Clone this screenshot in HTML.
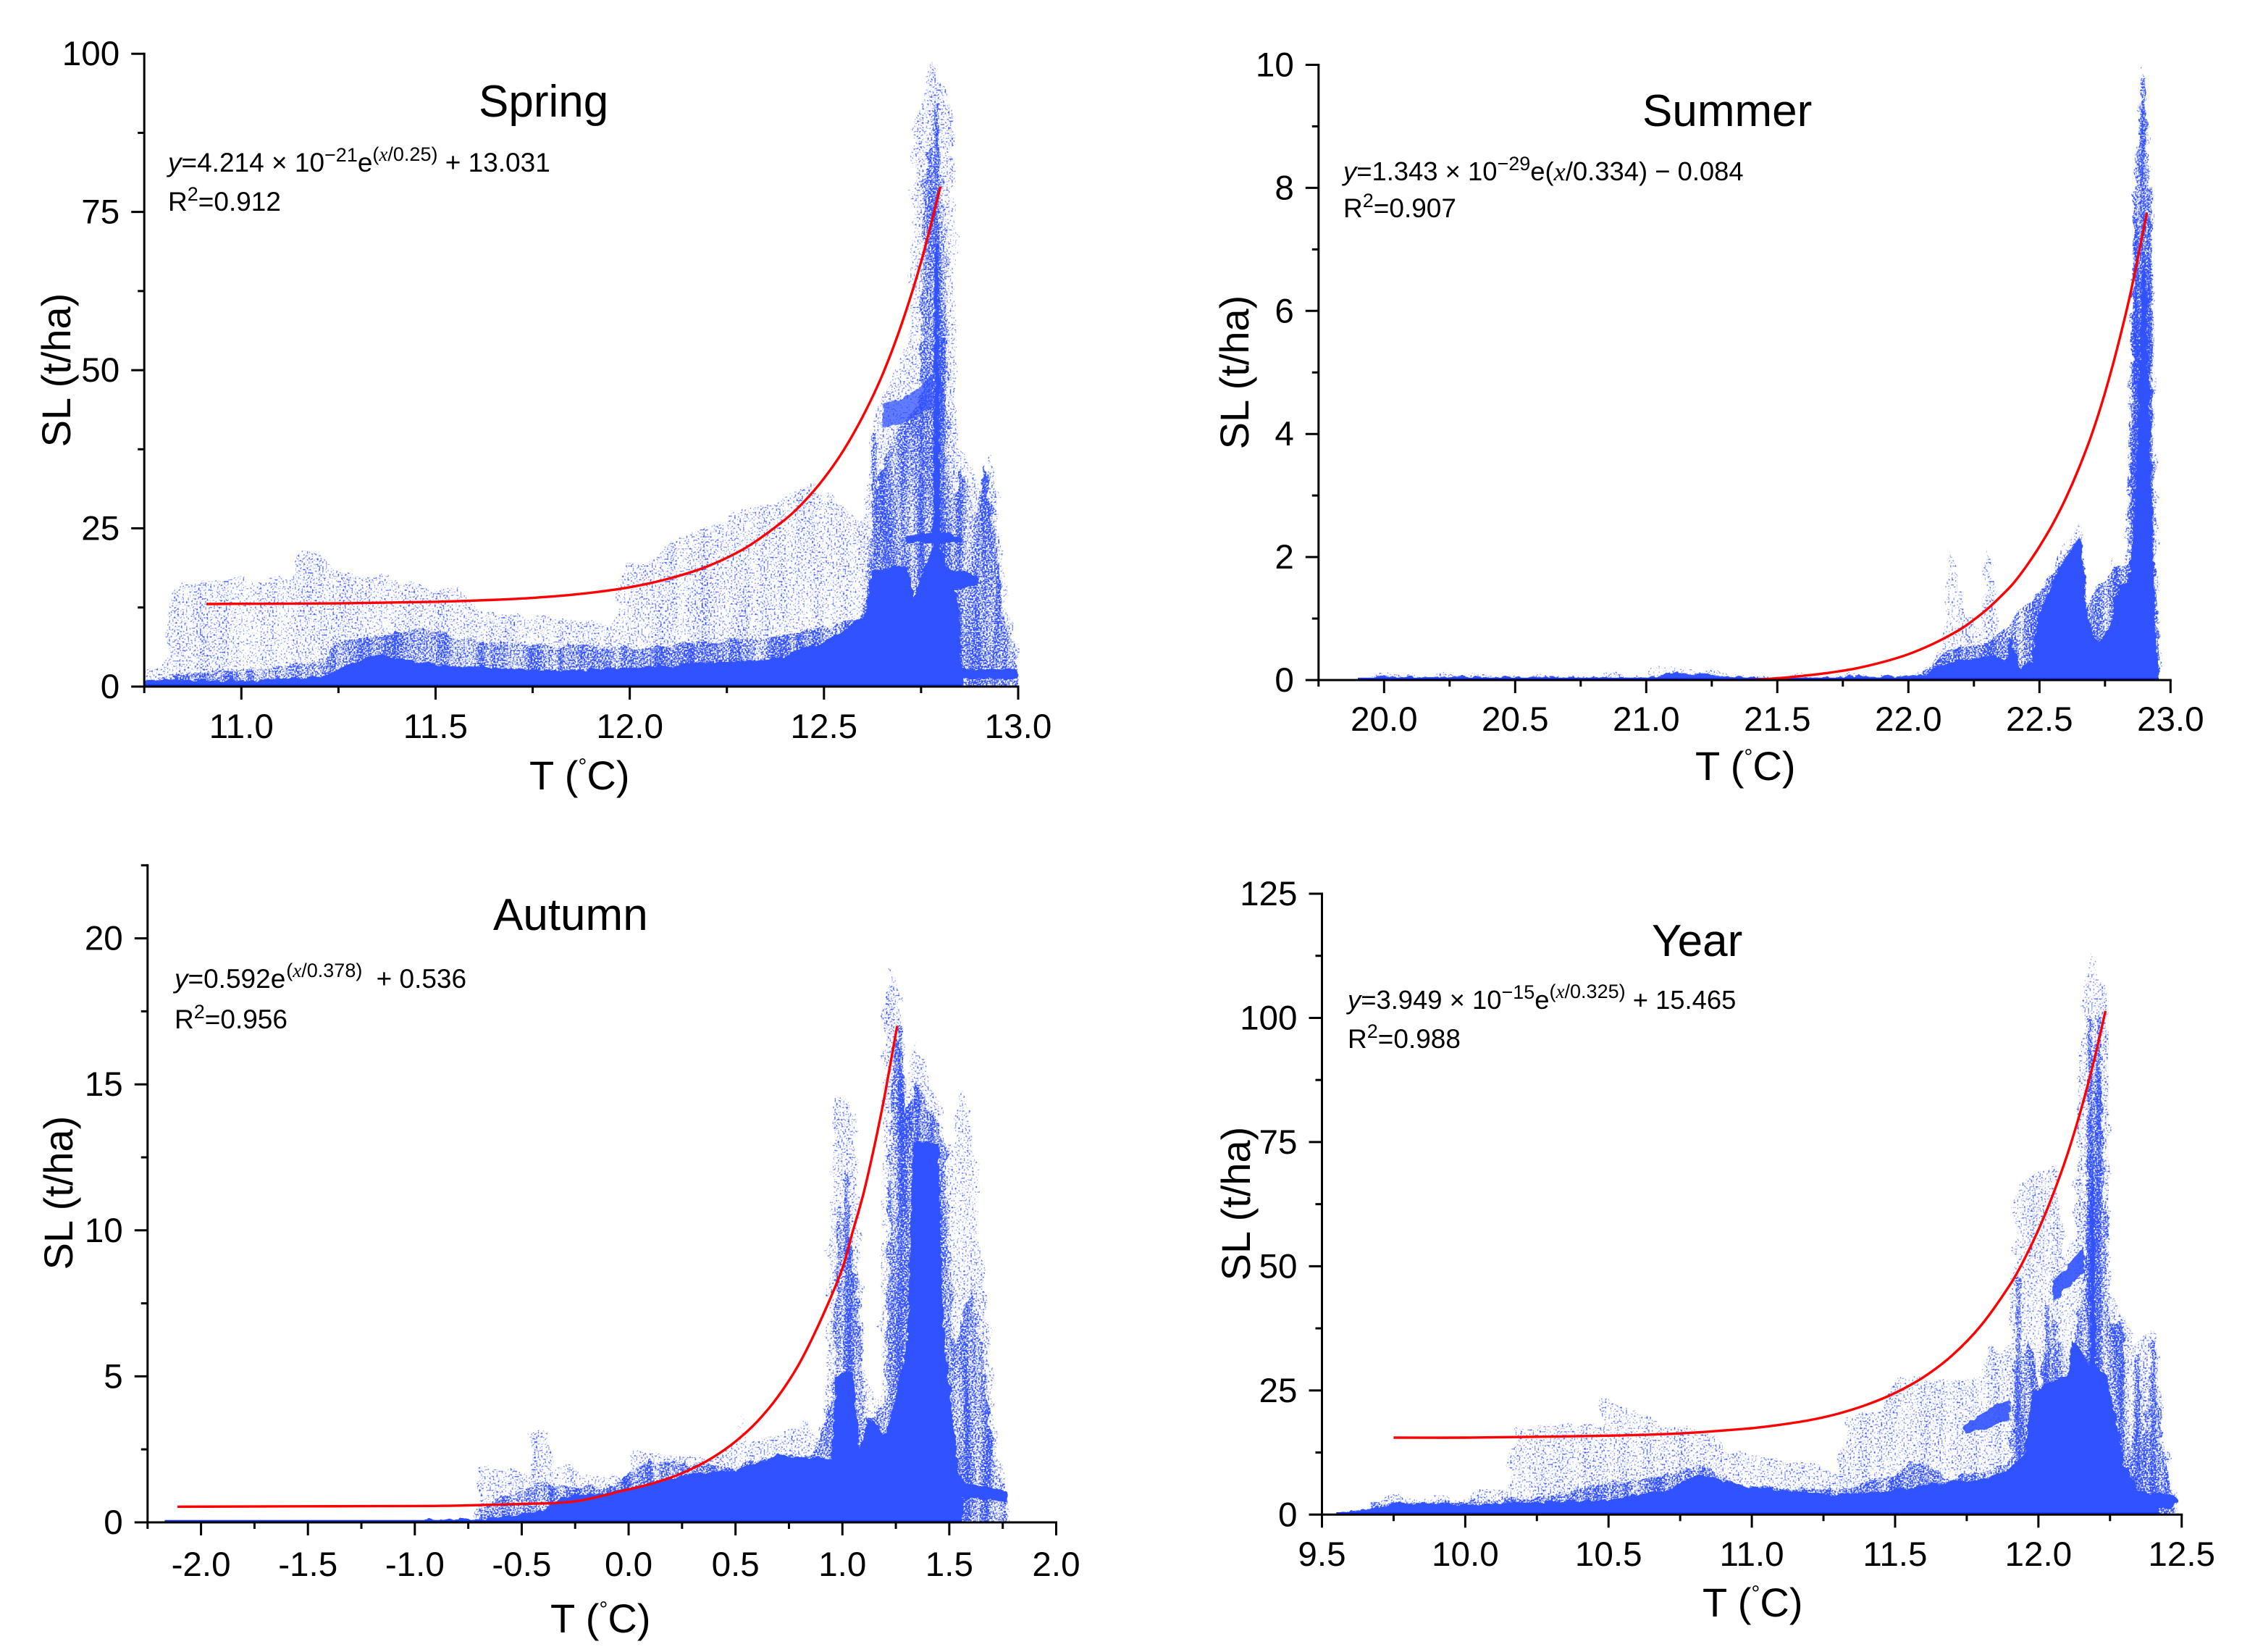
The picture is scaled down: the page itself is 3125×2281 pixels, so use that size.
<!DOCTYPE html>
<html lang="en">
<head>
<meta charset="utf-8">
<title>SL versus temperature by season</title>
<style>
html,body{margin:0;padding:0;background:#fff;}
svg{display:block;}
text{font-family:"Liberation Sans",Arial,sans-serif;fill:#000;}
.eq{font-size:37px;}
.eqs{font-size:36.4px;}
.sup{font-size:27px;}
.tnr{font-family:"Liberation Serif",serif;font-style:italic;}
.title{font-size:62px;}
.tick{font-size:47.6px;}
.axt{font-size:56px;}
.deg{font-size:30px;}
</style>
</head>
<body>
<svg id="fig" xmlns="http://www.w3.org/2000/svg" width="3125" height="2281" viewBox="0 0 3125 2281">
<defs>
<filter id="speckSparse" x="-3%" y="-3%" width="106%" height="106%" color-interpolation-filters="sRGB">
<feTurbulence type="fractalNoise" baseFrequency="0.42" numOctaves="1" seed="4" result="f"/>
<feColorMatrix in="f" type="matrix" values="0 0 0 0 0  0 0 0 0 0  0 0 0 0 0  1 0 0 0 0" result="fa"/>
<feTurbulence type="fractalNoise" baseFrequency="0.06 0.004" numOctaves="2" seed="7" result="c"/>
<feColorMatrix in="c" type="matrix" values="0 0 0 0 0  0 0 0 0 0  0 0 0 0 0  1 0 0 0 0" result="ca"/>
<feComposite in="fa" in2="ca" operator="arithmetic" k1="0" k2="0.85" k3="0.15" k4="0" result="m"/>
<feColorMatrix in="m" type="matrix" values="0 0 0 0 0.19  0 0 0 0 0.31  0 0 0 0 1  0 0 0 4.8 -2.5" result="s"/>
<feTurbulence type="fractalNoise" baseFrequency="0.035" numOctaves="3" seed="11" result="j"/>
<feDisplacementMap in="SourceGraphic" in2="j" scale="22" xChannelSelector="R" yChannelSelector="G" result="shape"/>
<feComposite in="s" in2="shape" operator="in"/>
</filter>
<filter id="speckMedium" x="-3%" y="-3%" width="106%" height="106%" color-interpolation-filters="sRGB">
<feTurbulence type="fractalNoise" baseFrequency="0.45" numOctaves="1" seed="9" result="f"/>
<feColorMatrix in="f" type="matrix" values="0 0 0 0 0  0 0 0 0 0  0 0 0 0 0  1 0 0 0 0" result="fa"/>
<feTurbulence type="fractalNoise" baseFrequency="0.07 0.005" numOctaves="2" seed="3" result="c"/>
<feColorMatrix in="c" type="matrix" values="0 0 0 0 0  0 0 0 0 0  0 0 0 0 0  1 0 0 0 0" result="ca"/>
<feComposite in="fa" in2="ca" operator="arithmetic" k1="0" k2="0.75" k3="0.3" k4="0" result="m"/>
<feColorMatrix in="m" type="matrix" values="0 0 0 0 0.19  0 0 0 0 0.31  0 0 0 0 1  0 0 0 6.4 -2.9" result="s"/>
<feTurbulence type="fractalNoise" baseFrequency="0.05" numOctaves="3" seed="21" result="j"/>
<feDisplacementMap in="SourceGraphic" in2="j" scale="16" xChannelSelector="R" yChannelSelector="G" result="shape"/>
<feComposite in="s" in2="shape" operator="in"/>
</filter>
<filter id="speckStreak" x="-3%" y="-3%" width="106%" height="106%" color-interpolation-filters="sRGB">
<feTurbulence type="fractalNoise" baseFrequency="0.5" numOctaves="1" seed="14" result="f"/>
<feColorMatrix in="f" type="matrix" values="0 0 0 0 0.19  0 0 0 0 0.31  0 0 0 0 1  6 0 0 0 -2.5" result="s"/>
<feTurbulence type="fractalNoise" baseFrequency="0.09" numOctaves="2" seed="5" result="j"/>
<feDisplacementMap in="SourceGraphic" in2="j" scale="8" xChannelSelector="R" yChannelSelector="G" result="shape"/>
<feComposite in="s" in2="shape" operator="in"/>
</filter>
<filter id="edgeDense" x="-3%" y="-3%" width="106%" height="106%" color-interpolation-filters="sRGB">
<feTurbulence type="fractalNoise" baseFrequency="0.08" numOctaves="3" seed="31" result="j"/>
<feDisplacementMap in="SourceGraphic" in2="j" scale="9" xChannelSelector="R" yChannelSelector="G"/>
</filter>
</defs>
<rect width="3125" height="2281" fill="#ffffff"/>
<g id="marks"></g>
<g id="axes"></g>

<text class="title" x="661" y="161">Spring</text>
<text class="eq" x="232" y="237"><tspan font-style="italic">y</tspan>=4.214 × 10<tspan class="sup" dy="-14">−21</tspan><tspan dy="14">e</tspan><tspan class="sup" dy="-15">(</tspan><tspan class="sup tnr">x</tspan><tspan class="sup">/0.25)</tspan><tspan dy="15"> + 13.031</tspan></text>
<text class="eq" x="232" y="291">R<tspan class="sup" dy="-14">2</tspan><tspan dy="14">=0.912</tspan></text>

<text class="title" x="2268" y="174">Summer</text>
<text class="eqs" x="1855" y="249"><tspan font-style="italic">y</tspan>=1.343 × 10<tspan class="sup" dy="-14">−29</tspan><tspan dy="14">e(</tspan><tspan class="tnr">x</tspan>/0.334) − 0.084</text>
<text class="eq" x="1855" y="300">R<tspan class="sup" dy="-14">2</tspan><tspan dy="14">=0.907</tspan></text>

<text class="title" x="681" y="1284">Autumn</text>
<text class="eq" x="241" y="1364"><tspan font-style="italic">y</tspan>=0.592e<tspan class="sup" dy="-15" dx="1">(</tspan><tspan class="sup tnr">x</tspan><tspan class="sup">/0.378)</tspan><tspan dy="15" dx="9"> + 0.536</tspan></text>
<text class="eq" x="241" y="1420">R<tspan class="sup" dy="-14">2</tspan><tspan dy="14">=0.956</tspan></text>

<text class="title" x="2281" y="1320">Year</text>
<text class="eqs" x="1861" y="1393"><tspan font-style="italic">y</tspan>=3.949 × 10<tspan class="sup" dy="-14">−15</tspan><tspan dy="14">e</tspan><tspan class="sup" dy="-15">(</tspan><tspan class="sup tnr">x</tspan><tspan class="sup">/0.325)</tspan><tspan dy="15"> + 15.465</tspan></text>
<text class="eq" x="1861" y="1447">R<tspan class="sup" dy="-14">2</tspan><tspan dy="14">=0.988</tspan></text>

<text class="axt" x="731" y="1090">T (<tspan class="deg" dy="-22">°</tspan><tspan dy="22">C)</tspan></text>
<text class="axt" x="2341" y="1077">T (<tspan class="deg" dy="-22">°</tspan><tspan dy="22">C)</tspan></text>
<text class="axt" x="760" y="2254">T (<tspan class="deg" dy="-22">°</tspan><tspan dy="22">C)</tspan></text>
<text class="axt" x="2351" y="2232">T (<tspan class="deg" dy="-22">°</tspan><tspan dy="22">C)</tspan></text>

<text class="axt" text-anchor="middle" transform="translate(97,511) rotate(-90)">SL (t/ha)</text>
<text class="axt" text-anchor="middle" transform="translate(1724,514) rotate(-90)">SL (t/ha)</text>
<text class="axt" text-anchor="middle" transform="translate(100,1647) rotate(-90)">SL (t/ha)</text>
<text class="axt" text-anchor="middle" transform="translate(1726,1662) rotate(-90)">SL (t/ha)</text>
</svg>

<script>
// ---------- Spring ----------
const springXTicks = ["11.0","11.5","12.0","12.5","13.0"];
const springYTicks = ["0","25","50","75","100"];
const springSparseT = [10.75,10.8,10.82,10.85,11.0,11.13,11.15,11.2,11.25,11.4,11.5,11.57,11.6,11.8,11.96,11.98,12.05,12.1,12.2,12.3,12.4,12.47,12.55,12.6,12.63,12.68,12.72,12.73,12.76,12.78,12.82,12.83,12.84,12.845,12.86,12.9,12.93,12.96,12.99,13.0];
const springSparseSL = [2,3,15,16.5,17,17,21.5,21,18,17,15,16,12,11,9.5,19,19,23,25,28,30,32,28,26,42,50,55,88,94,99,94,88,60,38,37,32,37,22,7,3];
const springMediumT = [10.75,11.2,11.25,11.45,11.5,11.6,12.0,12.2,12.4,12.6,12.63,12.68,12.75,12.755,12.79,12.815,12.82,12.84,12.86,12.89,12.915,12.94,12.96,13.0];
const springMediumSL = [1,4,7,9,9,7,6,7,8,11,30,40,45,80,90,70,30,30,35,26,35,24,12,3];
const springDenseT = [10.75,11.0,11.2,11.3,11.35,11.5,11.8,12.0,12.4,12.43,12.49,12.555,12.61,12.62,12.68,12.716,12.73,12.754,12.78,12.787,12.793,12.8,12.835,12.85,12.855];
const springDenseSL = [1,1,1.5,4,5,3.5,2.5,3,4.5,5.9,6.7,9,11.6,18,19,19,14,18,22,70,70,22,17,11,1];
const springClusterT = [12.65,12.7,12.74,12.78];
const springClusterLow = [41,41.5,43,44];
const springClusterHigh = [44.5,45.5,47,49.5];
const springArmAT = [12.71,12.76,12.82,12.853];
const springArmALow = [22.7,22.7,22.7,22.8];
const springArmAHigh = [23.5,24.4,24.4,23.3];
const springArmBT = [12.79,12.85,12.897];
const springArmBLow = [15,15.5,16.3];
const springArmBHigh = [18.5,18.3,17.5];
const springBandT = [12.83,12.9,13];
const springBandLow = [1.2,1.2,1.2];
const springBandHigh = [2.9,2.6,2.9];
const springStreakT = [12.63,12.66,12.75,12.79,12.805];
const springStreakSL = [40,28,46,92,55];
const springFitT = [10.91,11,11.25,11.5,11.7,11.8,11.9,12,12.1,12.2,12.3,12.4,12.45,12.5,12.55,12.6,12.65,12.7,12.75,12.8];
const springFitSL = [13.05,13.08,13.15,13.4,13.84,14.24,14.83,15.7,17.05,19,22,26.4,29.3,32.9,37.3,42.7,49.2,57.3,67.1,79];

// ---------- Summer ----------
const summerXTicks = ["20.0","20.5","21.0","21.5","22.0","22.5","23.0"];
const summerYTicks = ["0","2","4","6","8","10"];
const summerSparseT = [19.9,20,21,21.05,21.1,21.3,21.4,21.5,22,22.07,22.1,22.14,22.15,22.19,22.22,22.28,22.3,22.33,22.36,22.39,22.42,22.47,22.5,22.55,22.6,22.66,22.68,22.72,22.76,22.78,22.82,22.84,22.87,22.89,22.92,22.93,22.95,22.96];
const summerSparseSL = [0.03,0.08,0.07,0.2,0.2,0.13,0.06,0.05,0.1,0.15,0.4,0.7,2.2,1.6,1,0.8,2.2,1.2,0.5,0.85,0.3,0.3,1.2,1.9,2.2,2.6,1.4,0.8,1,2,1.8,3.5,8,10,8.5,5,1,0.2];
const summerMediumT = [22.05,22.15,22.3,22.5,22.66,22.68,22.78,22.84,22.85,22.87,22.9,22.915,22.93,22.935,22.96];
const summerMediumSL = [0.1,0.5,0.6,1.4,2.4,1.2,1.8,1.9,6,8.5,9.5,8,6,2,0.2];
const summerDenseT = [19.9,20,21,21.05,21.1,21.3,21.4,21.5,22,22.07,22.1,22.15,22.25,22.33,22.37,22.39,22.4,22.43,22.47,22.5,22.55,22.6,22.66,22.68,22.72,22.77,22.8,22.84,22.86,22.875,22.89,22.9,22.91,22.925,22.94,22.955];
const summerDenseSL = [0.02,0.05,0.04,0.06,0.12,0.08,0.03,0.03,0.07,0.08,0.2,0.28,0.35,0.42,0.3,0.7,0.5,0.2,0.3,1.1,1.6,2,2.3,1.1,0.6,0.9,1.5,1.6,2.5,4,6.5,7,6,3.5,1,0.2];
const summerStreakT = [22.87,22.895,22.92];
const summerStreakSL = [7.5,9.8,8];
const summerFitT = [21.3,21.4,21.5,21.6,21.7,21.8,21.9,22,22.1,22.2,22.25,22.3,22.35,22.4,22.45,22.5,22.55,22.6,22.65,22.7,22.75,22.8,22.85,22.91];
const summerFitSL = [0,0,0.03,0.07,0.12,0.19,0.29,0.42,0.6,0.83,0.98,1.15,1.35,1.57,1.85,2.17,2.53,2.95,3.44,4,4.67,5.45,6.34,7.6];

// ---------- Autumn ----------
const autumnXTicks = ["-2.0","-1.5","-1.0","-0.5","0.0","0.5","1.0","1.5","2.0"];
const autumnYTicks = ["0","5","10","15","20"];
const autumnSparseT = [-0.72,-0.7,-0.47,-0.46,-0.38,-0.35,-0.1,0,0.03,0.2,0.4,0.52,0.53,0.55,0.7,0.8,0.83,0.9,0.93,0.96,1,1.06,1.1,1.18,1.2,1.23,1.27,1.3,1.34,1.42,1.47,1.5,1.53,1.57,1.62,1.68,1.72,1.77,1.78];
const autumnSparseSL = [0,1.8,1.8,3.2,3.1,1.9,1.6,1.7,2.4,2.3,2.2,2.8,3.9,2.8,3,3.2,3.6,2.8,6,14.5,14.6,14,5,4,18,19,18,15,16.5,15,13.5,12,14,15,12.5,7,2.5,1,0];
const autumnMediumT = [-0.7,-0.4,-0.1,0.1,0.35,0.5,0.7,0.85,0.95,0.98,1.03,1.07,1.1,1.2,1.22,1.25,1.3,1.35,1.48,1.52,1.6,1.65,1.72,1.77];
const autumnMediumSL = [0.5,1.4,1.2,2.1,2,1.9,2.3,2.3,4,11,10,8,3.5,4,13,17,14,15,13,6,8,6,2,1];
const autumnDenseT = [-2.17,-1,-0.95,-0.7,-0.4,-0.3,-0.1,0.1,0.25,0.5,0.7,0.85,0.95,0.97,1.05,1.08,1.12,1.2,1.24,1.3,1.33,1.45,1.47,1.525,1.56];
const autumnDenseSL = [0.01,0.02,0.1,0.1,0.4,0.9,1,1.3,1.6,1.8,2.3,2.2,2.2,5,5.2,2.5,3.6,3,4,6,13,13,7,3,0.8];
const autumnBandT = [1.52,1.6,1.7,1.77];
const autumnBandLow = [0.85,0.85,0.8,0.7];
const autumnBandHigh = [1.5,1.3,1.2,1.05];
const autumnStreakT = [1.02,1.27,1.35,1.42];
const autumnStreakSL = [12,17,15,14];
const autumnFitT = [-2.11,-1.5,-1,-0.75,-0.5,-0.25,0,0.1,0.2,0.3,0.4,0.5,0.6,0.7,0.8,0.9,1,1.05,1.1,1.15,1.2,1.256];
const autumnFitSL = [0.536,0.55,0.56,0.58,0.63,0.72,1.13,1.31,1.54,1.85,2.25,2.77,3.44,4.32,5.46,6.95,8.7,10,11.3,12.9,14.7,17];

// ---------- Year ----------
const yearXTicks = ["9.5","10.0","10.5","11.0","11.5","12.0","12.5"];
const yearYTicks = ["0","25","50","75","100","125"];
const yearSparseT = [9.65,9.67,9.9,10,10.05,10.15,10.17,10.35,10.47,10.48,10.57,10.7,10.88,10.9,11.1,11.3,11.34,11.45,11.5,11.7,11.8,11.83,11.87,11.9,11.92,11.97,12.06,12.1,12.12,12.16,12.19,12.24,12.25,12.3,12.33,12.4,12.43,12.47,12.49];
const yearSparseSL = [0,3,3.2,3.5,5,5,17,18.5,18,23.5,22,18,16.5,13,11,9,20,21,28,27,28,34,32,35,66,68,70,50,58,108,113,105,45,40,34,38,20,5,2];
const yearMediumT = [9.67,10.2,10.5,10.7,10.82,10.95,11.3,11.5,11.55,11.7,11.75,11.9,11.92,11.97,12,12.05,12.1,12.16,12.17,12.2,12.22,12.25,12.29,12.31,12.33,12.35,12.36,12.4,12.43,12.47];
const yearMediumSL = [2.5,3,6,8,10,6,5,8,11,7,8,10,30,35,25,40,30,45,90,95,85,38,39,20,12,30,12,33,15,3];
const yearDenseT = [9.55,9.7,9.75,10,10.5,10.7,10.82,11,11.3,11.5,11.6,11.8,11.9,11.95,11.98,12.1,12.12,12.18,12.19,12.2,12.24,12.26,12.3,12.35,12.42];
const yearDenseSL = [0.2,1.5,2.5,2,3,5,8,5.5,4,5,6,7,9,12,25,28,35,30,80,30,28,22,10,5,1.5];
const yearClusterAT = [11.74,11.8,11.85,11.9];
const yearClusterALow = [16.5,17,18,19];
const yearClusterAHigh = [18,20,22,23];
const yearClusterBT = [12.05,12.09,12.13,12.16];
const yearClusterBLow = [43,45,47,49];
const yearClusterBHigh = [47,49,52,54];
const yearBandT = [12.3,12.4,12.47,12.487];
const yearBandLow = [1.3,1.3,1.6,2.4];
const yearBandHigh = [5,4.3,4,3];
const yearStreakT = [11.93,12.03,12.18,12.21,12.29,12.345,12.4];
const yearStreakSL = [48,42,100,100,38,32,35];
const yearFitT = [9.75,10,10.5,10.75,11,11.1,11.2,11.3,11.4,11.5,11.6,11.7,11.8,11.9,11.95,12,12.05,12.1,12.15,12.2,12.234];
const yearFitSL = [15.5,15.5,15.9,16.35,17.4,18.1,19,20.3,22.1,24.5,27.7,32.1,38.1,46.2,51.3,57.3,64.3,72.3,81.8,92.8,101.4];

// ---------- Drawing helpers ----------
const NS = 'http://www.w3.org/2000/svg';
const marks = document.getElementById('marks');
const axes = document.getElementById('axes');
const defs = document.querySelector('defs');
const BLUE = '#3052ff';

function make(tag, attrs, parent) {
  const el = document.createElementNS(NS, tag);
  for (const k in attrs) el.setAttribute(k, attrs[k]);
  parent.appendChild(el);
  return el;
}

function scales(p) {
  return {
    x: t => p.px0 + (t - p.t0) * (p.px1 - p.px0) / (p.t1 - p.t0),
    y: v => p.py0 + (v - p.v0) * (p.py1 - p.py0) / (p.v1 - p.v0)
  };
}

function panelGroup(p, key) {
  const clip = make('clipPath', {id: key + '-clip'}, defs);
  make('rect', {x: p.px0 - 400, y: p.py1 - 120, width: 2000, height: p.py0 - p.py1 + 120 + 1}, clip);
  const g = make('g', {'clip-path': 'url(#' + key + '-clip)'}, marks);
  
  
  return g;
}

function area(p, parent, name, ts, vals, style) {
  const s = scales(p);
  let d = 'M' + s.x(ts[0]).toFixed(1) + ' ' + (s.y(0) + 8).toFixed(1);
  ts.forEach((t, i) => { d += 'L' + s.x(t).toFixed(1) + ' ' + s.y(vals[i]).toFixed(1); });
  d += 'L' + s.x(ts[ts.length - 1]).toFixed(1) + ' ' + (s.y(0) + 8).toFixed(1) + 'Z';
  const el = make('path', Object.assign({d: d, fill: BLUE}, style), parent);
  
  
}

function band(p, parent, name, ts, lows, highs, opacity) {
  const s = scales(p);
  let d = '';
  ts.forEach((t, i) => { d += (i ? 'L' : 'M') + s.x(t).toFixed(1) + ' ' + s.y(highs[i]).toFixed(1); });
  for (let i = ts.length - 1; i >= 0; i--) d += 'L' + s.x(ts[i]).toFixed(1) + ' ' + s.y(lows[i]).toFixed(1);
  const el = make('path', {d: d + 'Z', fill: BLUE, 'fill-opacity': opacity, filter: 'url(#edgeDense)'}, parent);
  
  
}

function streaks(p, parent, name, ts, vals) {
  const s = scales(p);
  let d = '';
  ts.forEach((t, i) => {
    const x = s.x(t), top = s.y(vals[i]);
    d += 'M' + (x - 5).toFixed(1) + ' ' + s.y(0).toFixed(1) + 'L' + (x - 3).toFixed(1) + ' ' + top.toFixed(1) + 'L' + (x + 3).toFixed(1) + ' ' + top.toFixed(1) + 'L' + (x + 5).toFixed(1) + ' ' + s.y(0).toFixed(1) + 'Z';
  });
  const el = make('path', {d: d, fill: BLUE, filter: 'url(#speckStreak)'}, parent);
  
  
}

function baseline(p, parent, name, ts) {
  const s = scales(p);
  const el = make('line', {x1: s.x(ts[0]), x2: s.x(ts[ts.length - 1]), y1: s.y(0) - 1, y2: s.y(0) - 1, stroke: '#1a3aff', 'stroke-width': 4.5}, parent);
  
  
}

function fitCurve(p, parent, name, ts, vals) {
  const s = scales(p);
  const pts = ts.map((t, i) => [s.x(t), s.y(vals[i])]);
  let d = 'M' + pts[0][0].toFixed(1) + ' ' + pts[0][1].toFixed(1);
  for (let i = 0; i < pts.length - 1; i++) {
    const a = pts[Math.max(i - 1, 0)], b = pts[i], c = pts[i + 1], e = pts[Math.min(i + 2, pts.length - 1)];
    const h = c[0] - b[0];
    const m1 = (c[1] - a[1]) / Math.max(c[0] - a[0], 1e-6);
    const m2 = (e[1] - b[1]) / Math.max(e[0] - b[0], 1e-6);
    d += 'C' + (b[0] + h / 3).toFixed(1) + ' ' + (b[1] + m1 * h / 3).toFixed(1) + ' ' + (c[0] - h / 3).toFixed(1) + ' ' + (c[1] - m2 * h / 3).toFixed(1) + ' ' + c[0].toFixed(1) + ' ' + c[1].toFixed(1);
  }
  const el = make('path', {d: d, fill: 'none', stroke: '#ff0000', 'stroke-width': 3.4}, parent);
  
  
}

function drawAxes(p, key, xTicks, yTicks) {
  const s = scales(p);
  const g = make('g', {stroke: '#000', 'stroke-width': 3, fill: 'none'}, axes);
  
  
  const x0 = s.x(p.xStart);
  const xAxis = make('line', {x1: x0 - 1.5, x2: s.x(p.xEnd) + 1.5, y1: p.py0, y2: p.py0}, g);
  
  
  const yAxis = make('line', {x1: x0, x2: x0, y1: p.py0 + 1.5, y2: s.y(p.yEnd) - 1.5}, g);
  
  
  xTicks.forEach(label => {
    const v = parseFloat(label), px = s.x(v);
    const t = make('line', {x1: px, x2: px, y1: p.py0, y2: p.py0 + 18}, g);
    
    
    const txt = make('text', {x: px, y: p.xLabelY, 'text-anchor': 'middle', class: 'tick', stroke: 'none'}, axes);
    txt.textContent = label;
    
    
  });
  const xStep = parseFloat(xTicks[1]) - parseFloat(xTicks[0]);
  for (let v = parseFloat(xTicks[0]) - xStep / 2; v < p.xEnd; v += xStep) {
    if (v < p.xStart - 1e-6) continue;
    const t = make('line', {x1: s.x(v), x2: s.x(v), y1: p.py0, y2: p.py0 + 9}, g);
    
    
  }
  yTicks.forEach(label => {
    const v = parseFloat(label), py = s.y(v);
    const t = make('line', {x1: x0 - 18, x2: x0, y1: py, y2: py}, g);
    
    
    const txt = make('text', {x: x0 - 34, y: py + 16, 'text-anchor': 'end', class: 'tick', stroke: 'none'}, axes);
    txt.textContent = label;
    
    
  });
  const yStep = parseFloat(yTicks[1]) - parseFloat(yTicks[0]);
  for (let v = yStep / 2; v <= p.yEnd + 1e-6; v += yStep) {
    const t = make('line', {x1: x0 - 9, x2: x0, y1: s.y(v), y2: s.y(v)}, g);
    
    
  }
}

const SPARSE = {filter: 'url(#speckSparse)'};
const MEDIUM = {filter: 'url(#speckMedium)'};
const DENSE = {filter: 'url(#edgeDense)'};

// ---------- Spring panel ----------
const spring = {t0: 11, t1: 13, px0: 333.3, px1: 1406, v0: 0, v1: 100, py0: 948, py1: 74.2, xStart: 10.75, xEnd: 13, yEnd: 100, xLabelY: 1019};
const springGroup = panelGroup(spring, 'spring');
area(spring, springGroup, 'spring-sparse-points', springSparseT, springSparseSL, SPARSE);
area(spring, springGroup, 'spring-medium-points', springMediumT, springMediumSL, MEDIUM);
streaks(spring, springGroup, 'spring-point-streaks', springStreakT, springStreakSL);
area(spring, springGroup, 'spring-dense-points', springDenseT, springDenseSL, DENSE);
band(spring, springGroup, 'spring-point-cluster', springClusterT, springClusterLow, springClusterHigh, 0.75);
band(spring, springGroup, 'spring-arm-upper', springArmAT, springArmALow, springArmAHigh, 1);
band(spring, springGroup, 'spring-arm-lower', springArmBT, springArmBLow, springArmBHigh, 1);
band(spring, springGroup, 'spring-low-band', springBandT, springBandLow, springBandHigh, 1);
baseline(spring, springGroup, 'spring-baseline-points', springDenseT);
fitCurve(spring, springGroup, 'spring-fit-curve', springFitT, springFitSL);
drawAxes(spring, 'spring', springXTicks, springYTicks);

// ---------- Summer panel ----------
const summer = {t0: 20, t1: 23, px0: 1911.3, px1: 2997.3, v0: 0, v1: 10, py0: 939, py1: 89.5, xStart: 19.75, xEnd: 23, yEnd: 10, xLabelY: 1009};
const summerGroup = panelGroup(summer, 'summer');
area(summer, summerGroup, 'summer-sparse-points', summerSparseT, summerSparseSL, SPARSE);
area(summer, summerGroup, 'summer-medium-points', summerMediumT, summerMediumSL, MEDIUM);
streaks(summer, summerGroup, 'summer-point-streaks', summerStreakT, summerStreakSL);
area(summer, summerGroup, 'summer-dense-points', summerDenseT, summerDenseSL, DENSE);
baseline(summer, summerGroup, 'summer-baseline-points', summerDenseT);
fitCurve(summer, summerGroup, 'summer-fit-curve', summerFitT, summerFitSL);
drawAxes(summer, 'summer', summerXTicks, summerYTicks);

// ---------- Autumn panel ----------
const autumn = {t0: -2, t1: 2, px0: 277.6, px1: 1458.5, v0: 0, v1: 20, py0: 2102, py1: 1295.6, xStart: -2.25, xEnd: 2, yEnd: 22.5, xLabelY: 2176};
const autumnGroup = panelGroup(autumn, 'autumn');
area(autumn, autumnGroup, 'autumn-sparse-points', autumnSparseT, autumnSparseSL, SPARSE);
area(autumn, autumnGroup, 'autumn-medium-points', autumnMediumT, autumnMediumSL, MEDIUM);
streaks(autumn, autumnGroup, 'autumn-point-streaks', autumnStreakT, autumnStreakSL);
area(autumn, autumnGroup, 'autumn-dense-points', autumnDenseT, autumnDenseSL, DENSE);
band(autumn, autumnGroup, 'autumn-low-band', autumnBandT, autumnBandLow, autumnBandHigh, 1);
baseline(autumn, autumnGroup, 'autumn-baseline-points', autumnDenseT);
fitCurve(autumn, autumnGroup, 'autumn-fit-curve', autumnFitT, autumnFitSL);
drawAxes(autumn, 'autumn', autumnXTicks, autumnYTicks);

// ---------- Year panel ----------
const year = {t0: 9.5, t1: 12.5, px0: 1825.5, px1: 3012.7, v0: 0, v1: 125, py0: 2091.3, py1: 1234, xStart: 9.5, xEnd: 12.5, yEnd: 125, xLabelY: 2162};
const yearGroup = panelGroup(year, 'year');
area(year, yearGroup, 'year-sparse-points', yearSparseT, yearSparseSL, SPARSE);
area(year, yearGroup, 'year-medium-points', yearMediumT, yearMediumSL, MEDIUM);
streaks(year, yearGroup, 'year-point-streaks', yearStreakT, yearStreakSL);
area(year, yearGroup, 'year-dense-points', yearDenseT, yearDenseSL, DENSE);
band(year, yearGroup, 'year-point-cluster-low', yearClusterAT, yearClusterALow, yearClusterAHigh, 0.9);
band(year, yearGroup, 'year-point-cluster-high', yearClusterBT, yearClusterBLow, yearClusterBHigh, 0.9);
band(year, yearGroup, 'year-low-band', yearBandT, yearBandLow, yearBandHigh, 1);
baseline(year, yearGroup, 'year-baseline-points', yearDenseT);
fitCurve(year, yearGroup, 'year-fit-curve', yearFitT, yearFitSL);
drawAxes(year, 'year', yearXTicks, yearYTicks);
</script>
</body>
</html>
